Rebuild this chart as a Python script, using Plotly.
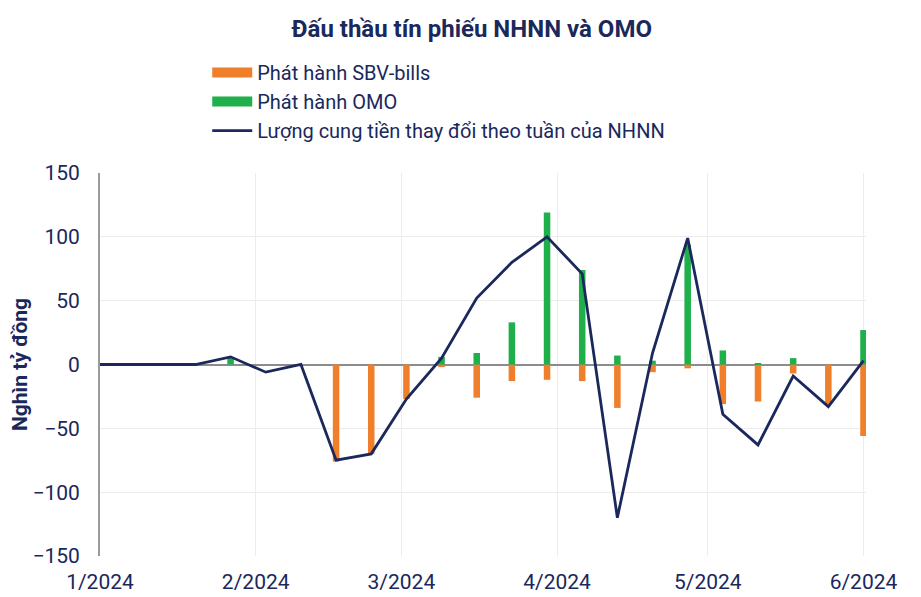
import plotly.graph_objects as go

dates = ["2023-12-30", "2024-01-06", "2024-01-13", "2024-01-20", "2024-01-27",
         "2024-02-03", "2024-02-10", "2024-02-17", "2024-02-24", "2024-03-02",
         "2024-03-09", "2024-03-16", "2024-03-23", "2024-03-30", "2024-04-06",
         "2024-04-13", "2024-04-20", "2024-04-27", "2024-05-04", "2024-05-11",
         "2024-05-18", "2024-05-25", "2024-06-01"]
sbv_bills = [0, 0, 0, 0, 0, 0, 0, -76, -70, -27, -2, -26, -13, -12, -13,
             -34, -6, -3, -31, -29, -7, -31, -56]
omo = [0, 0, 0, 0, 5, 0, 0, 0, 0, 0, 6, 9, 33, 119, 74, 7, 3, 94, 11, 1, 5, 0, 27]
net_supply = [0, 0, 0, 0, 6, -6, 0, -75, -70, -27, 5, 52, 80, 100, 71,
              -120, 9, 99, -39, -63, -9, -33, 3]
tick_vals = ["2024-01-01", "2024-02-01", "2024-03-01", "2024-04-01", "2024-05-01", "2024-06-01"]
tick_text = ["1/2024", "2/2024", "3/2024", "4/2024", "5/2024", "6/2024"]

NAVY = "#1a285c"
ORANGE = "#f07f2c"
GREEN = "#1fb04b"
FONT = "Roboto"
BAR_W = 1.3 * 86400000

fig = go.Figure()
fig.add_trace(go.Bar(x=dates, y=sbv_bills, name="Phát hành SBV-bills", showlegend=False,
                     marker=dict(color=ORANGE, line=dict(width=0)), width=BAR_W))
fig.add_trace(go.Bar(x=dates, y=omo, name="Phát hành OMO", showlegend=False,
                     marker=dict(color=GREEN, line=dict(width=0)), width=BAR_W))
fig.add_trace(go.Scatter(x=dates, y=net_supply, mode="lines", showlegend=False,
                         name="Lượng cung tiền thay đổi theo tuần của NHNN",
                         line=dict(color=NAVY, width=2.8)))
# legend entries (wide swatches like the reference)
fig.add_trace(go.Scatter(x=[None], y=[None], mode="lines", name="Phát hành SBV-bills",
                         line=dict(color=ORANGE, width=10)))
fig.add_trace(go.Scatter(x=[None], y=[None], mode="lines", name="Phát hành OMO",
                         line=dict(color=GREEN, width=10)))
fig.add_trace(go.Scatter(x=[None], y=[None], mode="lines",
                         name="Lượng cung tiền thay đổi theo tuần của NHNN",
                         line=dict(color=NAVY, width=2.8)))

# page body has an 8px margin, so the figure is sized/offset to compensate
fig.update_layout(
    width=913, height=589,
    margin=dict(l=92, r=55, t=165, b=41, autoexpand=False),
    paper_bgcolor="white", plot_bgcolor="white",
    barmode="overlay",
    font=dict(family=FONT, color=NAVY, size=20),
    title=dict(text="<b>Đấu thầu tín phiếu NHNN và OMO</b>",
               x=0.508, xanchor="center", y=1 - 21 / 589, yanchor="middle",
               font=dict(family=FONT, size=24, color=NAVY)),
    legend=dict(x=0.14, xanchor="left", y=1.313, yanchor="top",
                font=dict(family=FONT, size=20, color=NAVY),
                bgcolor="rgba(0,0,0,0)", itemwidth=40, tracegroupgap=0),
    showlegend=True,
)
fig.update_xaxes(
    type="date", range=["2024-01-01", "2024-06-01 12:00"],
    tickvals=tick_vals, ticktext=tick_text,
    showgrid=True, gridcolor="#ececec", gridwidth=1,
    showline=False, zeroline=False,
    tickfont=dict(family=FONT, size=21, color=NAVY),
    ticklabelstandoff=11,
)
fig.update_yaxes(
    range=[-150, 150], tickvals=[-150, -100, -50, 0, 50, 100, 150],
    showgrid=True, gridcolor="#ececec", gridwidth=1,
    zeroline=True, zerolinecolor="#8c8c8c", zerolinewidth=1.5,
    showline=True, linecolor="#9a9a9a", linewidth=2,
    tickfont=dict(family=FONT, size=21, color=NAVY),
    ticklabelstandoff=14,
    title=dict(text="<b>Nghìn tỷ đồng</b>", font=dict(family=FONT, size=21, color=NAVY),
               standoff=1),
)

fig.write_html("out.html")
